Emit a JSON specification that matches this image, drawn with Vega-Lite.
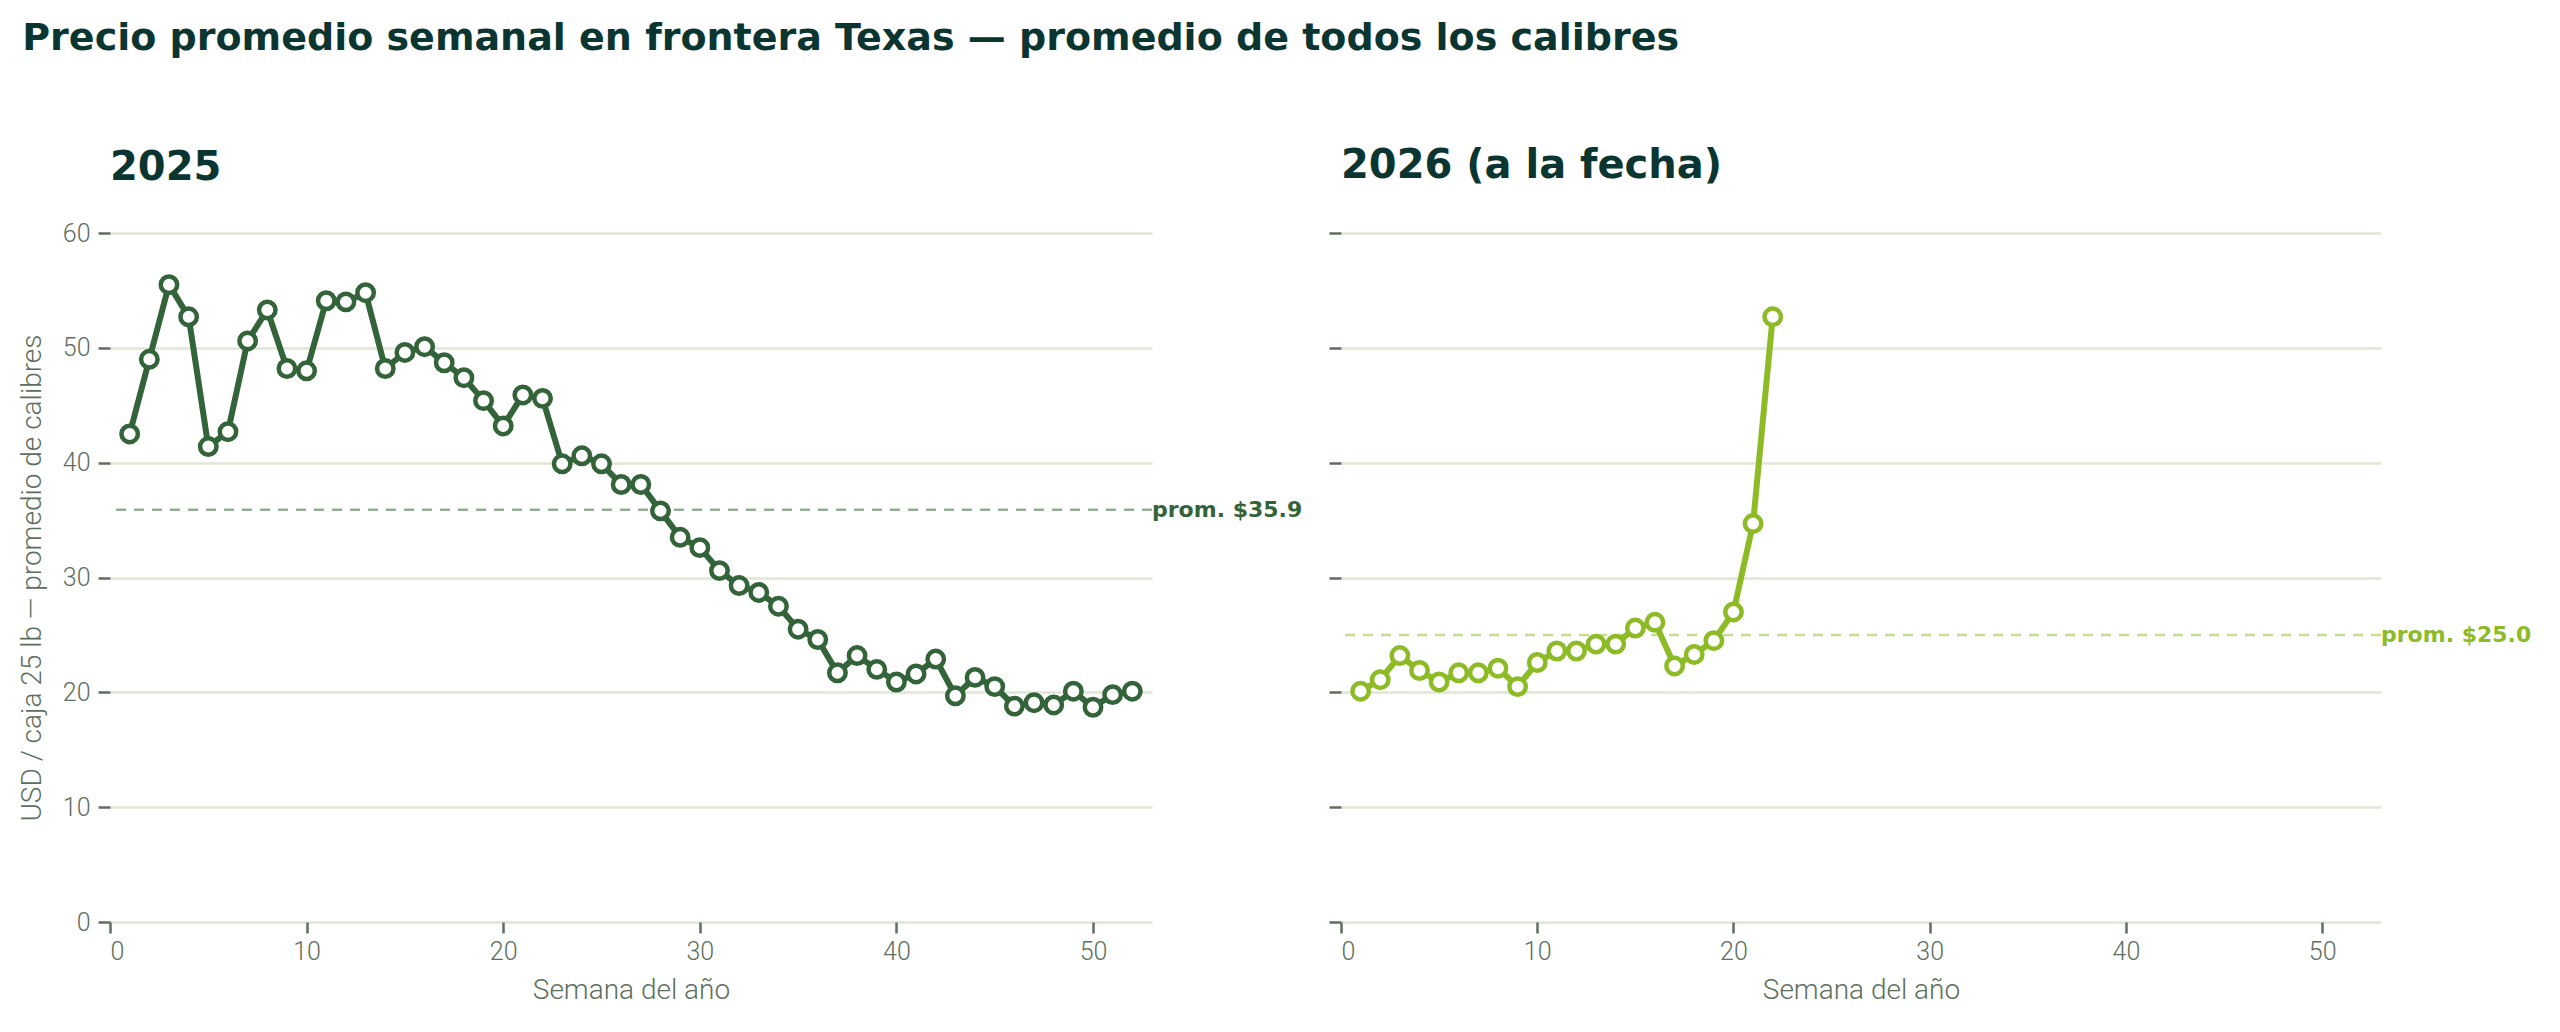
{
  "$schema": "https://vega.github.io/schema/vega-lite/v6.json",
  "background": "white",
  "padding": {"left": 18, "top": 19, "right": 10, "bottom": 10},
  "title": {"text": "Precio promedio semanal en frontera Texas — promedio de todos los calibres", "anchor": "start", "frame": "bounds", "dx": 4, "font": "DejaVu Sans", "fontSize": 38, "fontWeight": "bold", "color": "#0b3530", "offset": 88},
  "config": {
    "view": {"stroke": null},
    "axis": {
      "domain": false,
      "tickColor": "#5f6f5f", "tickWidth": 2.5,
      "labelFont": "Roboto", "labelFontSize": 25, "labelFontWeight": 300, "labelColor": "#5d6f5d",
      "titleFont": "Roboto", "titleFontSize": 28, "titleFontWeight": 300, "titleColor": "#5d6f5d",
      "gridColor": "#dfe6d5", "gridWidth": 2.5
    }
  },
  "datasets": {
    "precios": [
      {"anio": 2025, "semana": 1, "precio": 42.5}, {"anio": 2025, "semana": 2, "precio": 49.0}, {"anio": 2025, "semana": 3, "precio": 55.5}, {"anio": 2025, "semana": 4, "precio": 52.7},
      {"anio": 2025, "semana": 5, "precio": 41.4}, {"anio": 2025, "semana": 6, "precio": 42.7}, {"anio": 2025, "semana": 7, "precio": 50.6}, {"anio": 2025, "semana": 8, "precio": 53.3},
      {"anio": 2025, "semana": 9, "precio": 48.2}, {"anio": 2025, "semana": 10, "precio": 48.0}, {"anio": 2025, "semana": 11, "precio": 54.1}, {"anio": 2025, "semana": 12, "precio": 54.0},
      {"anio": 2025, "semana": 13, "precio": 54.8}, {"anio": 2025, "semana": 14, "precio": 48.2}, {"anio": 2025, "semana": 15, "precio": 49.6}, {"anio": 2025, "semana": 16, "precio": 50.1},
      {"anio": 2025, "semana": 17, "precio": 48.7}, {"anio": 2025, "semana": 18, "precio": 47.4}, {"anio": 2025, "semana": 19, "precio": 45.4}, {"anio": 2025, "semana": 20, "precio": 43.2},
      {"anio": 2025, "semana": 21, "precio": 45.9}, {"anio": 2025, "semana": 22, "precio": 45.6}, {"anio": 2025, "semana": 23, "precio": 39.9}, {"anio": 2025, "semana": 24, "precio": 40.6},
      {"anio": 2025, "semana": 25, "precio": 39.9}, {"anio": 2025, "semana": 26, "precio": 38.1}, {"anio": 2025, "semana": 27, "precio": 38.1}, {"anio": 2025, "semana": 28, "precio": 35.8},
      {"anio": 2025, "semana": 29, "precio": 33.5}, {"anio": 2025, "semana": 30, "precio": 32.6}, {"anio": 2025, "semana": 31, "precio": 30.6}, {"anio": 2025, "semana": 32, "precio": 29.3},
      {"anio": 2025, "semana": 33, "precio": 28.7}, {"anio": 2025, "semana": 34, "precio": 27.5}, {"anio": 2025, "semana": 35, "precio": 25.5}, {"anio": 2025, "semana": 36, "precio": 24.6},
      {"anio": 2025, "semana": 37, "precio": 21.7}, {"anio": 2025, "semana": 38, "precio": 23.2}, {"anio": 2025, "semana": 39, "precio": 22.0}, {"anio": 2025, "semana": 40, "precio": 20.9},
      {"anio": 2025, "semana": 41, "precio": 21.6}, {"anio": 2025, "semana": 42, "precio": 22.9}, {"anio": 2025, "semana": 43, "precio": 19.7}, {"anio": 2025, "semana": 44, "precio": 21.3},
      {"anio": 2025, "semana": 45, "precio": 20.5}, {"anio": 2025, "semana": 46, "precio": 18.8}, {"anio": 2025, "semana": 47, "precio": 19.1}, {"anio": 2025, "semana": 48, "precio": 18.9},
      {"anio": 2025, "semana": 49, "precio": 20.1}, {"anio": 2025, "semana": 50, "precio": 18.7}, {"anio": 2025, "semana": 51, "precio": 19.8}, {"anio": 2025, "semana": 52, "precio": 20.1},
      {"anio": 2026, "semana": 1, "precio": 20.1}, {"anio": 2026, "semana": 2, "precio": 21.1}, {"anio": 2026, "semana": 3, "precio": 23.2}, {"anio": 2026, "semana": 4, "precio": 21.9},
      {"anio": 2026, "semana": 5, "precio": 20.9}, {"anio": 2026, "semana": 6, "precio": 21.7}, {"anio": 2026, "semana": 7, "precio": 21.7}, {"anio": 2026, "semana": 8, "precio": 22.1},
      {"anio": 2026, "semana": 9, "precio": 20.5}, {"anio": 2026, "semana": 10, "precio": 22.6}, {"anio": 2026, "semana": 11, "precio": 23.6}, {"anio": 2026, "semana": 12, "precio": 23.6},
      {"anio": 2026, "semana": 13, "precio": 24.2}, {"anio": 2026, "semana": 14, "precio": 24.2}, {"anio": 2026, "semana": 15, "precio": 25.6}, {"anio": 2026, "semana": 16, "precio": 26.1},
      {"anio": 2026, "semana": 17, "precio": 22.3}, {"anio": 2026, "semana": 18, "precio": 23.3}, {"anio": 2026, "semana": 19, "precio": 24.5}, {"anio": 2026, "semana": 20, "precio": 27.0},
      {"anio": 2026, "semana": 21, "precio": 34.7}, {"anio": 2026, "semana": 22, "precio": 52.7}
    ],
    "promedios": [
      {"anio": 2025, "prom": 35.9, "etiqueta": "prom. $35.9"},
      {"anio": 2026, "prom": 25.0, "etiqueta": "prom. $25.0"}
    ]
  },
  "bounds": "flush",
  "spacing": 189,
  "hconcat": [
    {
      "width": 1042, "height": 689,
      "title": {"text": "2025", "anchor": "start", "frame": "group", "font": "DejaVu Sans", "fontSize": 40, "fontWeight": "bold", "color": "#0b3530", "offset": 33},
      "layer": [
        {
          "data": {"name": "promedios"},
          "transform": [{"filter": "datum.anio == 2025"}],
          "mark": {"type": "rule", "color": "#93ad93", "strokeWidth": 2.5, "strokeDash": [10, 8]},
          "encoding": {"y": {"field": "prom", "type": "quantitative", "scale": {"domain": [0, 60]}}}
        },
        {
          "data": {"name": "promedios"},
          "transform": [{"filter": "datum.anio == 2025"}],
          "mark": {"type": "text", "align": "left", "baseline": "middle", "dx": 0, "font": "DejaVu Sans", "fontSize": 22, "fontWeight": "bold", "color": "#336338"},
          "encoding": {
            "x": {"value": "width"},
            "y": {"field": "prom", "type": "quantitative"},
            "text": {"field": "etiqueta"}
          }
        },
        {
          "data": {"name": "precios"},
          "transform": [{"filter": "datum.anio == 2025"}],
          "mark": {"type": "line", "color": "#336338", "strokeWidth": 6,
                   "point": {"filled": true, "fill": "white", "stroke": "#336338", "strokeWidth": 4.5, "size": 270}},
          "encoding": {
            "x": {"field": "semana", "type": "quantitative", "scale": {"domain": [0, 53], "nice": false},
                  "axis": {"title": "Semana del año", "values": [0, 10, 20, 30, 40, 50], "grid": false, "tickSize": 11, "labelPadding": 6, "titlePadding": 12}},
            "y": {"field": "precio", "type": "quantitative", "scale": {"domain": [0, 60]},
                  "axis": {"title": "USD / caja 25 lb — promedio de calibres", "values": [0, 10, 20, 30, 40, 50, 60], "grid": true, "tickSize": 12, "labelPadding": 8, "titlePadding": 16}}
          }
        }
      ]
    },
    {
      "width": 1040, "height": 689,
      "title": {"text": "2026 (a la fecha)", "anchor": "start", "frame": "group", "font": "DejaVu Sans", "fontSize": 40, "fontWeight": "bold", "color": "#0b3530", "offset": 46},
      "layer": [
        {
          "data": {"name": "promedios"},
          "transform": [{"filter": "datum.anio == 2026"}],
          "mark": {"type": "rule", "color": "#c5dc92", "strokeWidth": 2.5, "strokeDash": [10, 8]},
          "encoding": {"y": {"field": "prom", "type": "quantitative", "scale": {"domain": [0, 60]}}}
        },
        {
          "data": {"name": "promedios"},
          "transform": [{"filter": "datum.anio == 2026"}],
          "mark": {"type": "text", "align": "left", "baseline": "middle", "dx": 0, "font": "DejaVu Sans", "fontSize": 22, "fontWeight": "bold", "color": "#8dbb25"},
          "encoding": {
            "x": {"value": "width"},
            "y": {"field": "prom", "type": "quantitative"},
            "text": {"field": "etiqueta"}
          }
        },
        {
          "data": {"name": "precios"},
          "transform": [{"filter": "datum.anio == 2026"}],
          "mark": {"type": "line", "color": "#8dbb25", "strokeWidth": 6,
                   "point": {"filled": true, "fill": "white", "stroke": "#8dbb25", "strokeWidth": 4.5, "size": 270}},
          "encoding": {
            "x": {"field": "semana", "type": "quantitative", "scale": {"domain": [0, 53], "nice": false},
                  "axis": {"title": "Semana del año", "values": [0, 10, 20, 30, 40, 50], "grid": false, "tickSize": 11, "labelPadding": 6, "titlePadding": 12}},
            "y": {"field": "precio", "type": "quantitative", "scale": {"domain": [0, 60]},
                  "axis": {"title": null, "labels": false, "values": [0, 10, 20, 30, 40, 50, 60], "grid": true, "tickSize": 12}}
          }
        }
      ]
    }
  ]
}
